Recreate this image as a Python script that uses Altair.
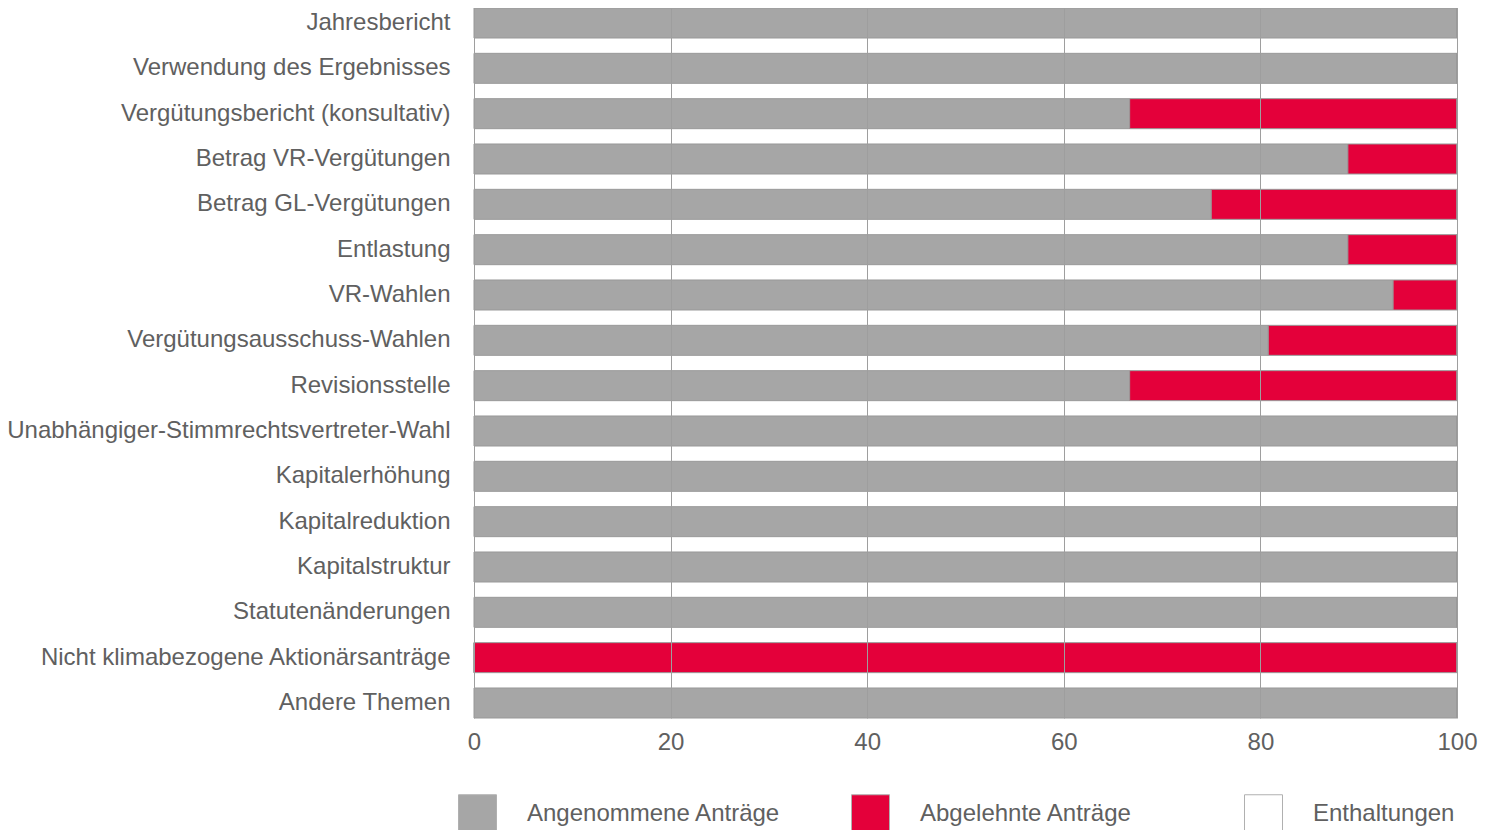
import altair as alt
import pandas as pd

categories = [
    "Jahresbericht",
    "Verwendung des Ergebnisses",
    "Vergütungsbericht (konsultativ)",
    "Betrag VR-Vergütungen",
    "Betrag GL-Vergütungen",
    "Entlastung",
    "VR-Wahlen",
    "Vergütungsausschuss-Wahlen",
    "Revisionsstelle",
    "Unabhängiger-Stimmrechtsvertreter-Wahl",
    "Kapitalerhöhung",
    "Kapitalreduktion",
    "Kapitalstruktur",
    "Statutenänderungen",
    "Nicht klimabezogene Aktionärsanträge",
    "Andere Themen",
]
angenommen = [100, 100, 66.7, 88.9, 75.0, 88.9, 93.5, 80.8, 66.7, 100, 100, 100, 100, 100, 0, 100]
abgelehnt = [0, 0, 33.3, 11.1, 25.0, 11.1, 6.5, 19.2, 33.3, 0, 0, 0, 0, 0, 100, 0]
enthaltungen = [0] * 16

series = ["Angenommene Anträge", "Abgelehnte Anträge", "Enthaltungen"]
colors = ["#a6a6a6", "#e4003a", "#ffffff"]

rows = []
for i, c in enumerate(categories):
    for k, (name, vals) in enumerate(zip(series, [angenommen, abgelehnt, enthaltungen])):
        rows.append({"Thema": c, "Serie": name, "Wert": vals[i], "ord": k})
df = pd.DataFrame(rows)

FONT = "Liberation Sans"
TXT = "#606060"

chart = (
    alt.Chart(df)
    .mark_bar(stroke="#999999", strokeWidth=1)
    .encode(
        y=alt.Y(
            "Thema:N",
            sort=categories,
            title=None,
            scale=alt.Scale(paddingInner=0.338, paddingOuter=0),
            axis=alt.Axis(
                ticks=False,
                domain=False,
                grid=False,
                labelFontSize=24,
                labelFont=FONT,
                labelColor=TXT,
                labelPadding=24,
                labelLimit=600,
            ),
        ),
        x=alt.X(
            "Wert:Q",
            stack="zero",
            title=None,
            scale=alt.Scale(domain=[0, 100], nice=False),
            axis=alt.Axis(
                values=[0, 20, 40, 60, 80, 100],
                ticks=False,
                domain=False,
                grid=True,
                gridColor="#9e9e9e",
                gridWidth=1,
                labelFontSize=24,
                labelFont=FONT,
                labelColor=TXT,
                labelPadding=12,
                labelFlush=False,
                zindex=1,
            ),
        ),
        color=alt.Color(
            "Serie:N",
            scale=alt.Scale(domain=series, range=colors),
            legend=alt.Legend(
                title=None,
                orient="none",
                legendX=-16,
                legendY=786,
                direction="horizontal",
                symbolType="square",
                symbolSize=1444,
                symbolStrokeColor="#b0b0b0",
                symbolStrokeWidth=1,
                symbolOpacity=1,
                labelFontSize=24,
                labelFont=FONT,
                labelColor=TXT,
                labelOffset=30,
                labelLimit=400,
                columnPadding=68,
                gridAlign="all",
                padding=0,
            ),
        ),
        order=alt.Order("ord:Q", sort="ascending"),
    )
    .properties(
        width=983,
        height=710,
        autosize="none",
        padding={"left": 466, "top": 0, "right": 25, "bottom": 120},
    )
    .configure_view(stroke=None)
)

chart.save("out.html", embed_options={"renderer": "svg", "actions": False})
